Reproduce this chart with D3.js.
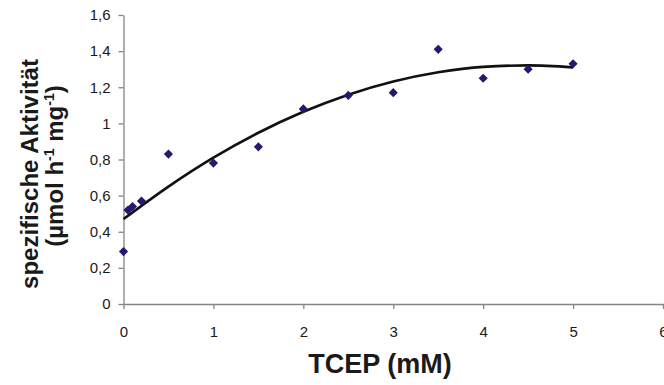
<!DOCTYPE html>
<html>
<head>
<meta charset="utf-8">
<script src="https://cdn.jsdelivr.net/npm/d3@7"></script>
<style>
  body { margin: 0; background: #fff; }
  svg { display: block; }
</style>
</head>
<body>
<svg id="chart"></svg>
<script>
// measured points: TCEP concentration (mM) vs specific activity
const tcep = [0, 0.05, 0.1, 0.2, 0.5, 1, 1.5, 2, 2.5, 3, 3.5, 4, 4.5, 5];
const activity = [0.29, 0.52, 0.54, 0.57, 0.83, 0.78, 0.87, 1.08, 1.155, 1.17, 1.41, 1.25, 1.30, 1.33];

// trend line
const trendX = [0, 0.5, 1, 1.5, 2, 2.5, 3, 3.5, 4, 4.5, 5];
const trendY = [0.47, 0.65, 0.81, 0.948, 1.064, 1.159, 1.232, 1.283, 1.313, 1.321, 1.31];

const xTicks = [0, 1, 2, 3, 4, 5, 6];
const yTicks = [0, 0.2, 0.4, 0.6, 0.8, 1, 1.2, 1.4, 1.6];

const width = 664, height = 385;
const font = "'Liberation Sans', Arial, sans-serif";

const svg = d3.select('#chart')
  .attr('width', width)
  .attr('height', height);

const x = d3.scaleLinear().domain([0, 6]).range([123.5, 663]);
const y = d3.scaleLinear().domain([0, 1.6]).range([304, 15]);

const de = d3.formatLocale({ decimal: ',', thousands: '.', grouping: [3], currency: ['', ' €'] });
const fmt = de.format('~g');

// axes
const xAxis = svg.append('g')
  .attr('transform', 'translate(0,' + y(0) + ')')
  .call(d3.axisBottom(x).tickValues(xTicks).tickFormat(d3.format('d')).tickSizeInner(5).tickSizeOuter(0).tickPadding(17));

const yAxis = svg.append('g')
  .attr('transform', 'translate(' + x(0) + ',0)')
  .call(d3.axisLeft(y).tickValues(yTicks).tickFormat(fmt).tickSizeInner(5).tickSizeOuter(0).tickPadding(8));

[xAxis, yAxis].forEach(g => {
  g.selectAll('path, line').attr('stroke', '#858585').attr('stroke-width', 1.3);
  g.selectAll('text')
    .attr('fill', '#1a1a1a')
    .style('font-family', font)
    .style('font-size', '15px');
});

// trend line
const line = d3.line()
  .x((d, i) => x(trendX[i]))
  .y(d => y(d))
  .curve(d3.curveMonotoneX);

svg.append('path')
  .datum(trendY)
  .attr('d', line)
  .attr('fill', 'none')
  .attr('stroke', '#111')
  .attr('stroke-width', 2.6);

// diamond markers
const diamond = d3.symbol(d3.symbolSquare, 42);
svg.selectAll('.pt')
  .data(tcep)
  .enter().append('path')
  .attr('class', 'pt')
  .attr('d', diamond)
  .attr('transform', (d, i) => `translate(${x(d)},${y(activity[i])}) rotate(45)`)
  .attr('fill', '#23196f');

// axis titles
svg.append('text')
  .attr('x', 380)
  .attr('y', 373)
  .attr('text-anchor', 'middle')
  .style('font-family', font)
  .style('font-size', '27px')
  .style('font-weight', 'bold')
  .attr('fill', '#1a1a1a')
  .text('TCEP (mM)');

svg.append('text')
  .attr('transform', 'translate(38,174) rotate(-90)')
  .attr('text-anchor', 'middle')
  .style('font-family', font)
  .style('font-size', '24px')
  .style('font-weight', 'bold')
  .attr('fill', '#1a1a1a')
  .text('spezifische Aktivität');

const t2 = svg.append('text')
  .attr('transform', 'translate(63,166) rotate(-90)')
  .attr('text-anchor', 'middle')
  .style('font-family', font)
  .style('font-size', '24px')
  .style('font-weight', 'bold')
  .attr('fill', '#1a1a1a');
t2.append('tspan').text('(µmol h');
t2.append('tspan').attr('dy', -9).style('font-size', '14px').text('-1');
t2.append('tspan').attr('dy', 9).text(' mg');
t2.append('tspan').attr('dy', -9).style('font-size', '14px').text('-1');
t2.append('tspan').attr('dy', 9).text(')');
</script>
</body>
</html>
